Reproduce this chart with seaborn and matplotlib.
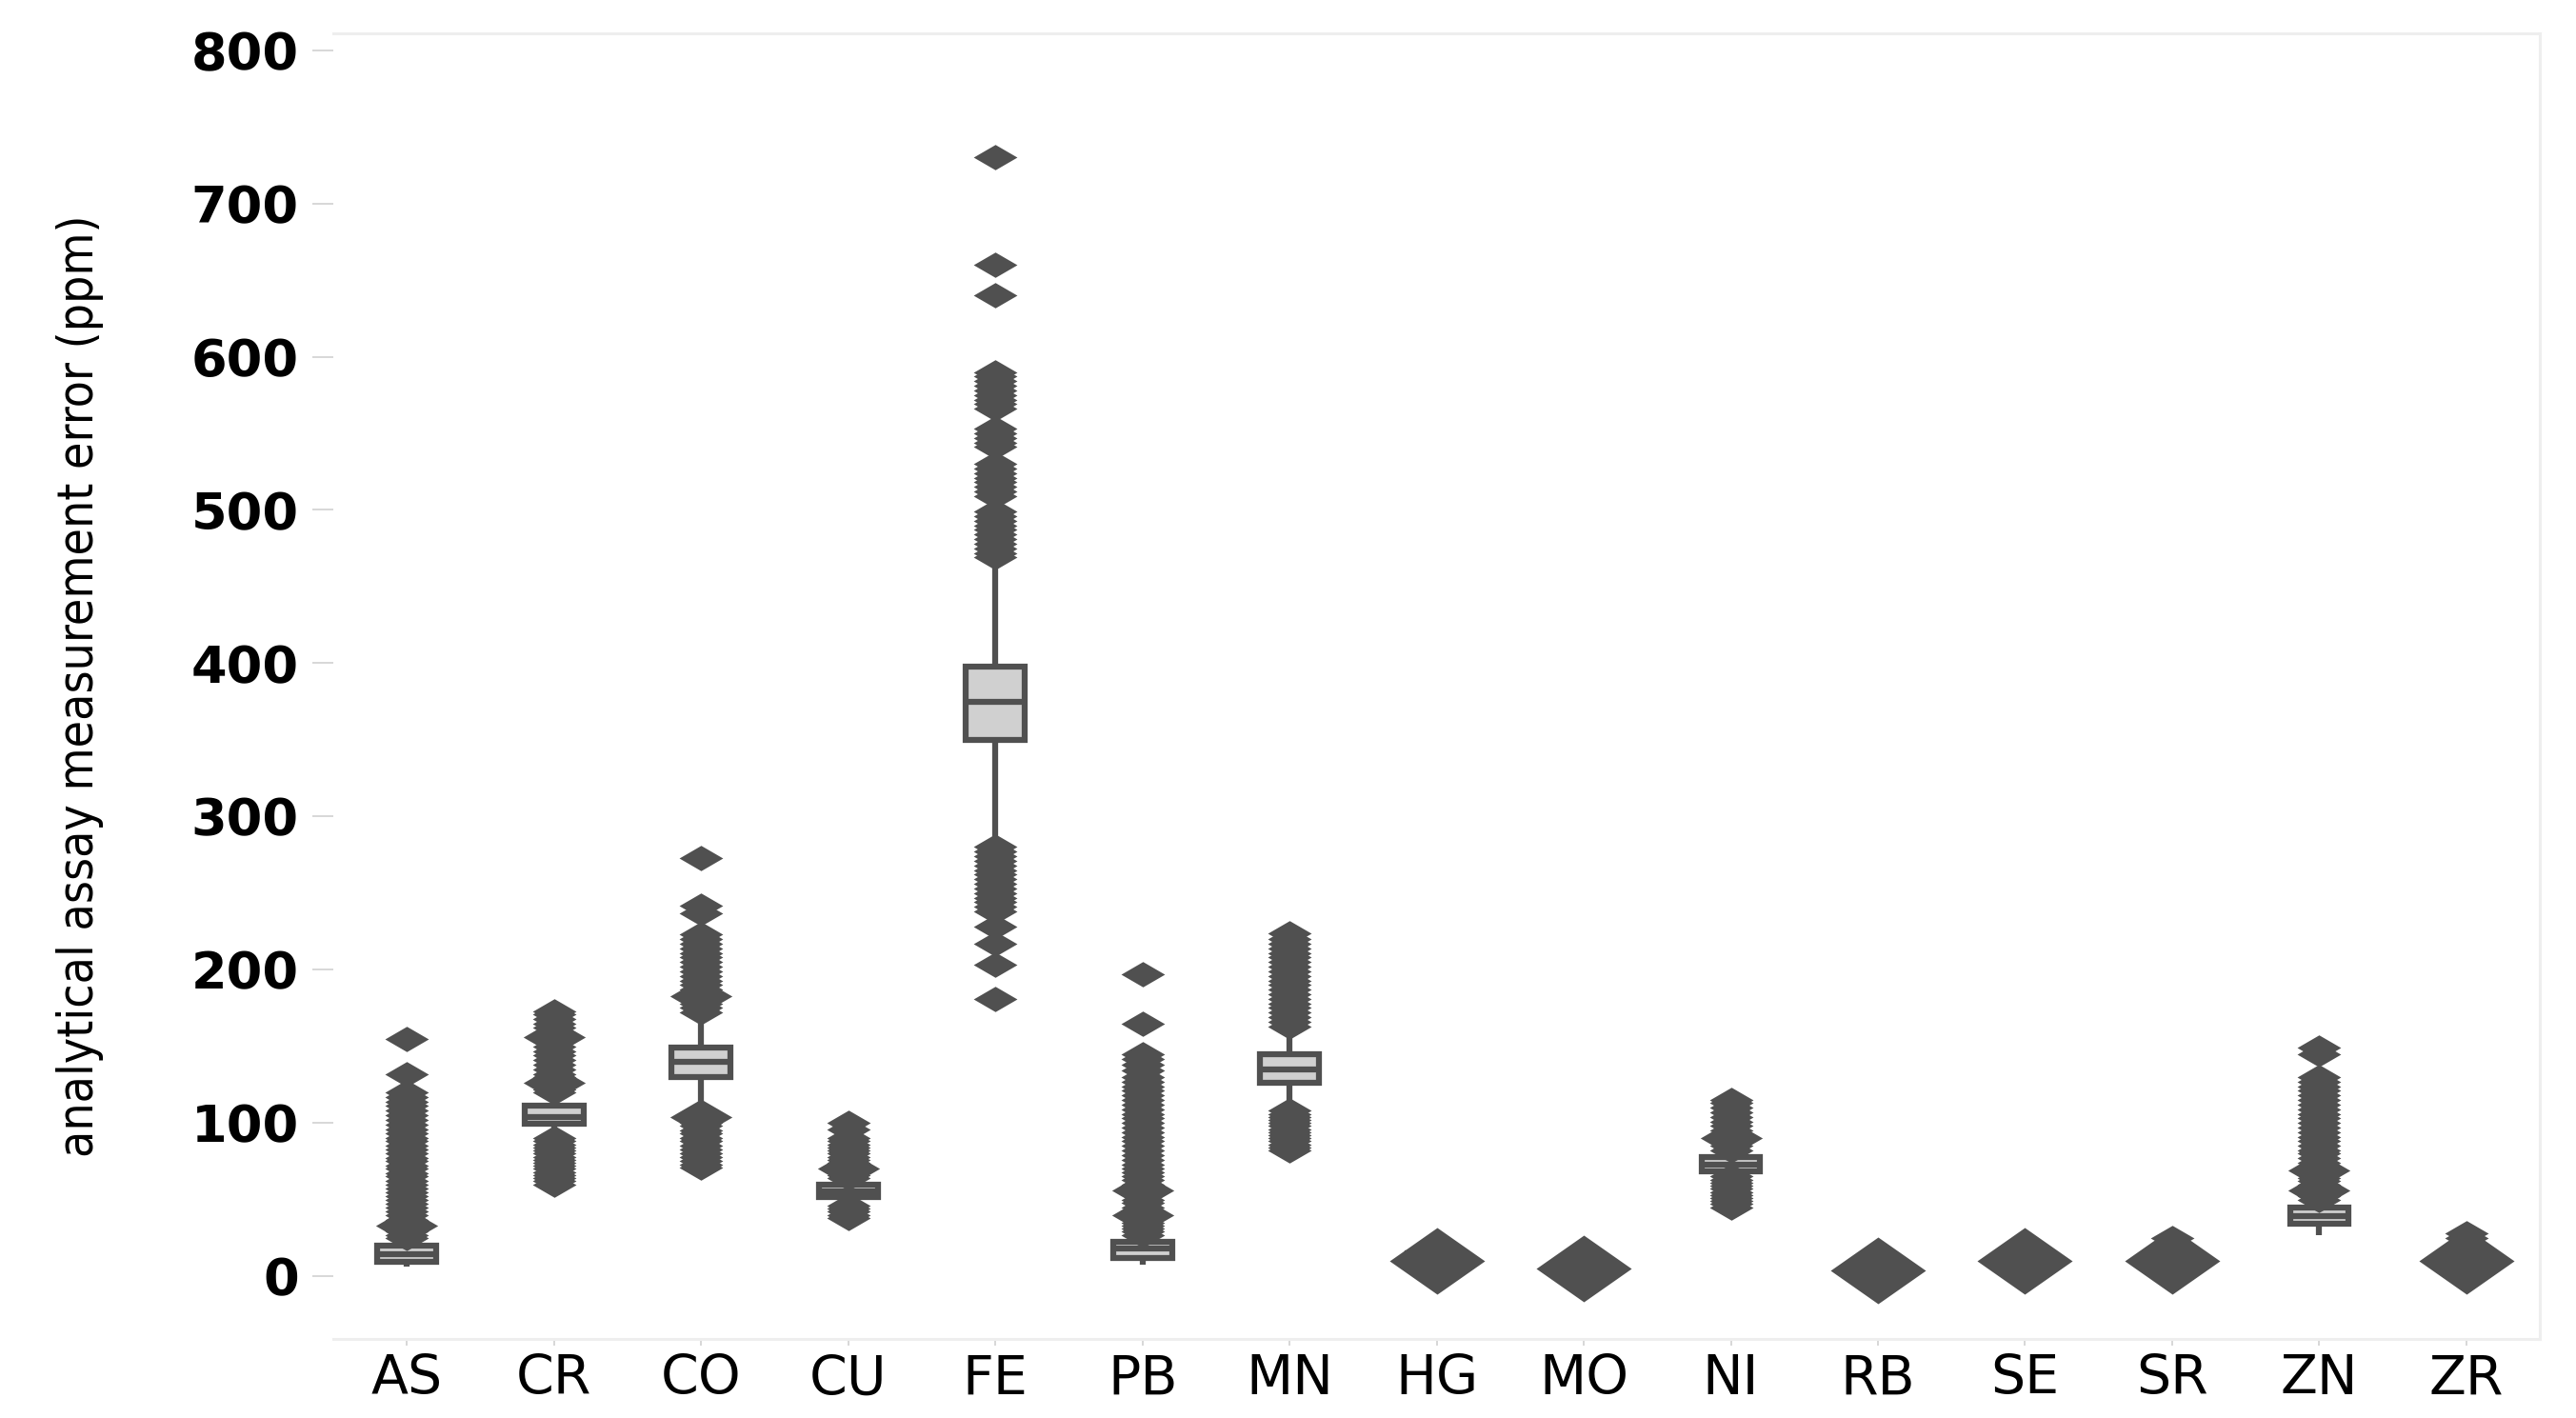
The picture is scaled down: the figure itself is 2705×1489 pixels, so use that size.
import numpy as np
import pandas as pd
import matplotlib
matplotlib.use("Agg")
import matplotlib.pyplot as plt
from matplotlib import font_manager
import seaborn as sns

# elements on the x axis
elements = ["AS", "CR", "CO", "CU", "FE", "PB", "MN", "HG", "MO", "NI", "RB", "SE", "SR", "ZN", "ZR"]

# box statistics (ppm)
whisk_lo = [6, 92, 107, 48, 282, 7.5, 111, 12, 4, 67, 3.5, 10, 10, 27, 10]
q1 = [9.3, 99.5, 130, 51.5, 350, 12, 126, 13, 5, 68.5, 4.5, 11, 11, 34.5, 11]
median = [14.3, 104, 140, 55.5, 375, 18, 135, 14, 5.5, 73, 5, 12, 12, 39, 12]
q3 = [19.9, 111, 149, 60, 398, 22.5, 145, 15, 6, 77.5, 5.5, 13, 13, 44.5, 13]
whisk_hi = [24, 119, 171, 63, 467, 25, 161, 16, 7, 80, 6.5, 14, 14, 48, 14]

# outliers (normal markers)
fl_as = [25, 27, 29, 31, 33, 35, 37, 40, 42, 45, 47, 50, 52, 55, 57, 60, 62, 65, 67, 70,
         72, 75, 77, 80, 83, 85, 88, 90, 93, 96, 99, 102, 105, 108, 111, 114, 117, 120, 132, 155]
fl_cr = [60, 62, 64, 66, 68, 70, 72, 74, 76, 78, 80, 82, 84, 86, 88, 90,
         120, 122, 124, 127, 130, 132, 135, 138, 141, 144, 147, 150, 153, 156, 159, 162, 165, 168, 171, 173]
fl_co = [71, 73, 75, 78, 80, 83, 85, 88, 90, 93, 95, 98, 100, 103, 105,
         172, 175, 178, 181, 184, 187, 190, 193, 196, 199, 202, 205, 208, 211, 214, 217, 220, 223,
         237, 242, 273]
fl_cu = [38, 40, 42, 44, 46, 64, 66, 68, 70, 72, 74, 76, 78, 80, 82, 84, 86, 88, 90, 96, 100]
fl_fe = [181, 203, 217, 228, 238, 241, 244, 247, 250, 253, 256, 259, 262, 265, 268, 271, 274, 277, 280,
         469, 472, 475, 478, 481, 484, 487, 490, 493, 496, 499, 509, 512, 515, 518, 521, 524, 527, 530,
         541, 544, 547, 550, 553, 566, 569, 572, 575, 578, 581, 584, 587, 590, 640, 660, 730]
fl_pb = [27, 29, 31, 33, 35, 38, 40, 43, 45, 48, 50, 53, 55, 58, 60, 63, 65, 68, 70, 73, 76, 79,
         82, 85, 88, 91, 94, 97, 100, 103, 106, 109, 112, 115, 118, 121, 124, 127, 130, 134, 138,
         142, 145, 165, 197]
fl_mn = [82, 84, 86, 88, 90, 92, 94, 96, 98, 100, 102, 104, 106, 108,
         163, 166, 169, 172, 175, 178, 181, 184, 187, 190, 193, 196, 199, 202, 205, 208, 211, 214,
         217, 220, 224]
fl_ni = [45, 47, 49, 51, 53, 55, 57, 59, 61, 63, 65, 82, 85, 88, 92, 95, 98, 101, 104, 107, 110, 113, 115]
fl_se = [20]
fl_sr = [21, 25]
fl_zn = [50, 52, 54, 57, 60, 62, 64, 67, 70, 72, 74, 77, 80, 82, 85, 88, 91, 94, 97, 100, 103,
         106, 109, 112, 115, 118, 121, 124, 127, 130, 145, 149]
fl_zr = [17, 21, 25, 28]

# spots where the outlier column widens
wide_as = [33]
wide_cr = [126, 156]
wide_co = [104, 183]
wide_cu = [70]
wide_pb = [40, 56]
wide_ni = [90]
wide_zn = [56, 69]

# large blobs for the elements with very small errors
blob_hg = [10]
blob_mo = [5]
blob_rb = [4]
blob_se = [10]
blob_sr = [10]
blob_zr = [10]

box_df = pd.DataFrame({
    "element": np.repeat(elements, 5),
    "value": np.column_stack([whisk_lo, q1, median, q3, whisk_hi]).ravel(),
})


def long_table(pairs):
    rows = [(el, v) for el, vals in pairs for v in vals]
    return pd.DataFrame(rows, columns=["element", "value"])


fliers = long_table([("AS", fl_as), ("CR", fl_cr), ("CO", fl_co), ("CU", fl_cu), ("FE", fl_fe),
                     ("PB", fl_pb), ("MN", fl_mn), ("NI", fl_ni), ("SE", fl_se), ("SR", fl_sr),
                     ("ZN", fl_zn), ("ZR", fl_zr)])
wide = long_table([("AS", wide_as), ("CR", wide_cr), ("CO", wide_co), ("CU", wide_cu),
                   ("PB", wide_pb), ("NI", wide_ni), ("ZN", wide_zn)])
blobs = long_table([("HG", blob_hg), ("MO", blob_mo), ("RB", blob_rb), ("SE", blob_se),
                    ("SR", blob_sr), ("ZR", blob_zr)])

sns.set_style("white")
names = {f.name for f in font_manager.fontManager.ttflist}
if "Liberation Sans Narrow" in names:
    label_font = dict(family="Liberation Sans Narrow", fontsize=40)
else:
    label_font = dict(family="DejaVu Sans", fontstretch="condensed", fontsize=37)
plt.rcParams["font.family"] = ["DejaVu Sans"]

dark = "#505050"
diamond = np.array([(-1, 0), (0, 0.58), (1, 0), (0, -0.58), (-1, 0)])
fat_diamond = np.array([(-1, 0), (0, 0.7), (1, 0), (0, -0.7), (-1, 0)])

fig = plt.figure(figsize=(27.05, 14.89), dpi=100)
ax = fig.add_axes([0.1294, 0.0557, 0.8566, 0.9208])

sns.boxplot(data=box_df, x="element", y="value", order=elements, whis=(0, 100),
            width=0.4, color="#d0d0d0", linecolor=dark, linewidth=4.5, saturation=1,
            showcaps=False, fliersize=0, ax=ax)

sns.stripplot(data=fliers, x="element", y="value", order=elements, jitter=False,
              marker=diamond, size=33, color=dark, linewidth=0, ax=ax)
sns.stripplot(data=wide, x="element", y="value", order=elements, jitter=False,
              marker=diamond, size=47, color=dark, linewidth=0, ax=ax)
sns.stripplot(data=blobs, x="element", y="value", order=elements, jitter=False,
              marker=fat_diamond, size=72, color=dark, linewidth=0, ax=ax)

ax.set_xlim(-0.5, 14.5)
ax.set_ylim(-41, 811)
ax.set_yticks(np.arange(0, 801, 100))
ax.set_xlabel("")
ax.set_ylabel("analytical assay measurement error (ppm)", color="black", **label_font)
ax.yaxis.set_label_coords(-0.104, 0.5)

for lab in ax.get_yticklabels():
    lab.set_fontweight("bold")
ax.tick_params(axis="y", labelsize=39, labelcolor="black", length=16, width=1.3,
               color="#d4d4d4", pad=10, left=True)
ax.tick_params(axis="x", labelsize=41, labelcolor="black", length=5, width=1.3,
               color="#d4d4d4", pad=6, bottom=True)

ax.spines["left"].set_visible(False)
for side in ["top", "right", "bottom"]:
    ax.spines[side].set_color("#eeeeee")
    ax.spines[side].set_linewidth(2.2)

fig.savefig("out.png", dpi=100)
